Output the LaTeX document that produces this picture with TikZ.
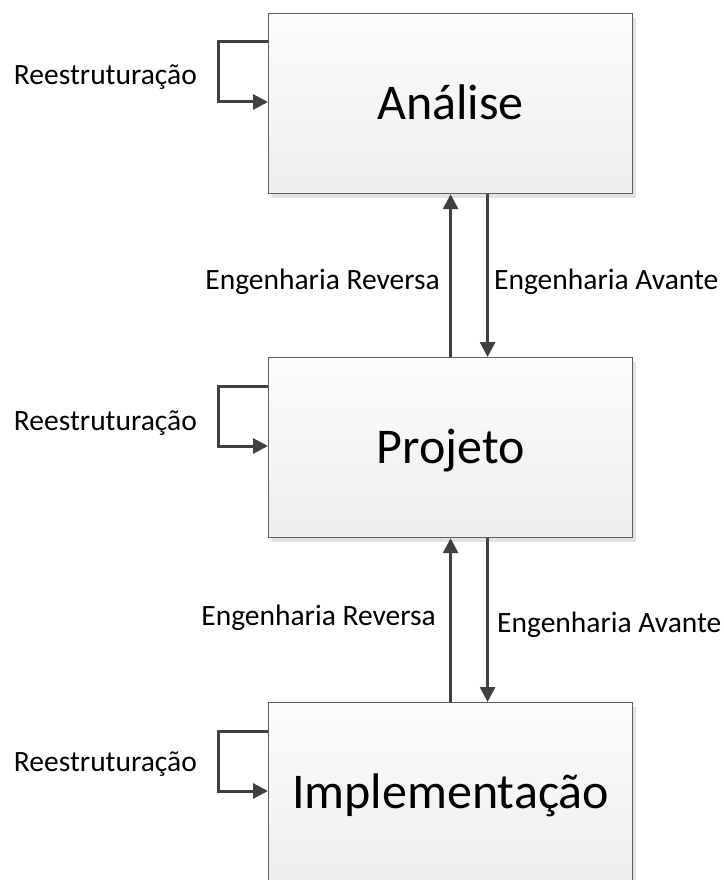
\documentclass[tikz,border=0pt]{standalone}
\usepackage{fontspec}
\setmainfont{Carlito}
\usetikzlibrary{arrows.meta,shadows,calc}

\definecolor{edge}{HTML}{404040}
\definecolor{frame}{HTML}{5E5E5E}
\definecolor{boxtop}{HTML}{FCFCFC}
\definecolor{boxbot}{HTML}{EEEEEE}
\definecolor{shade}{HTML}{E2E2E2}

\begin{document}
\begin{tikzpicture}[x=1pt,y=-1pt,
  stage/.style={draw=frame, line width=1.2pt, minimum width=364pt,
    minimum height=180pt, inner sep=0pt, anchor=north west,
    top color=boxtop, bottom color=boxbot,
    drop shadow={shadow xshift=3pt, shadow yshift=-4pt, fill=shade, opacity=1},
    font=\fontsize{50}{60}\selectfont, text height=32.2pt, text depth=0pt},
  lbl/.style={inner sep=0pt, font=\fontsize{29.5}{35}\selectfont},
  flow/.style={draw=edge, line width=3pt,
    -{Triangle[length=15pt,width=15pt]}}]

\useasboundingbox (0,0) rectangle (723,880);
\fill[white] (0,0) rectangle (723,880);

% the three stages
\node[stage] (a) at (268,13)  {Análise};
\node[stage] (p) at (268,357) {Projeto};
\node[stage] (i) at (268,702) {Implementação};

% self loops (restructuring)
\foreach \s in {a,p,i}{
  \draw[flow] ($(\s.north west)+(0,29)$) -- ++(-50,0) -- ++(0,60)
    -- ($(\s.north west)+(0,89)$);
}
\node[lbl, anchor=base east] (ra) at (197,85)  {Reestruturação};
\node[lbl, anchor=base east] (rp) at (197,430) {Reestruturação};
\node[lbl, anchor=base east] (ri) at (197,771) {Reestruturação};

% reverse and forward engineering between stages
\draw[flow] (p.north) -- (a.south);
\draw[flow] ($(a.south)+(37,0)$) -- ($(p.north)+(37,0)$);
\draw[flow] (i.north) -- (p.south);
\draw[flow] ($(p.south)+(37,0)$) -- ($(i.north)+(37,0)$);

\node[lbl, anchor=base east] (er1) at (440,289) {Engenharia Reversa};
\node[lbl, anchor=base west] (ea1) at (494,289) {Engenharia Avante};
\node[lbl, anchor=base east] (er2) at (436,625) {Engenharia Reversa};
\node[lbl, anchor=base west] (ea2) at (497,632) {Engenharia Avante};
\end{tikzpicture}
\end{document}
